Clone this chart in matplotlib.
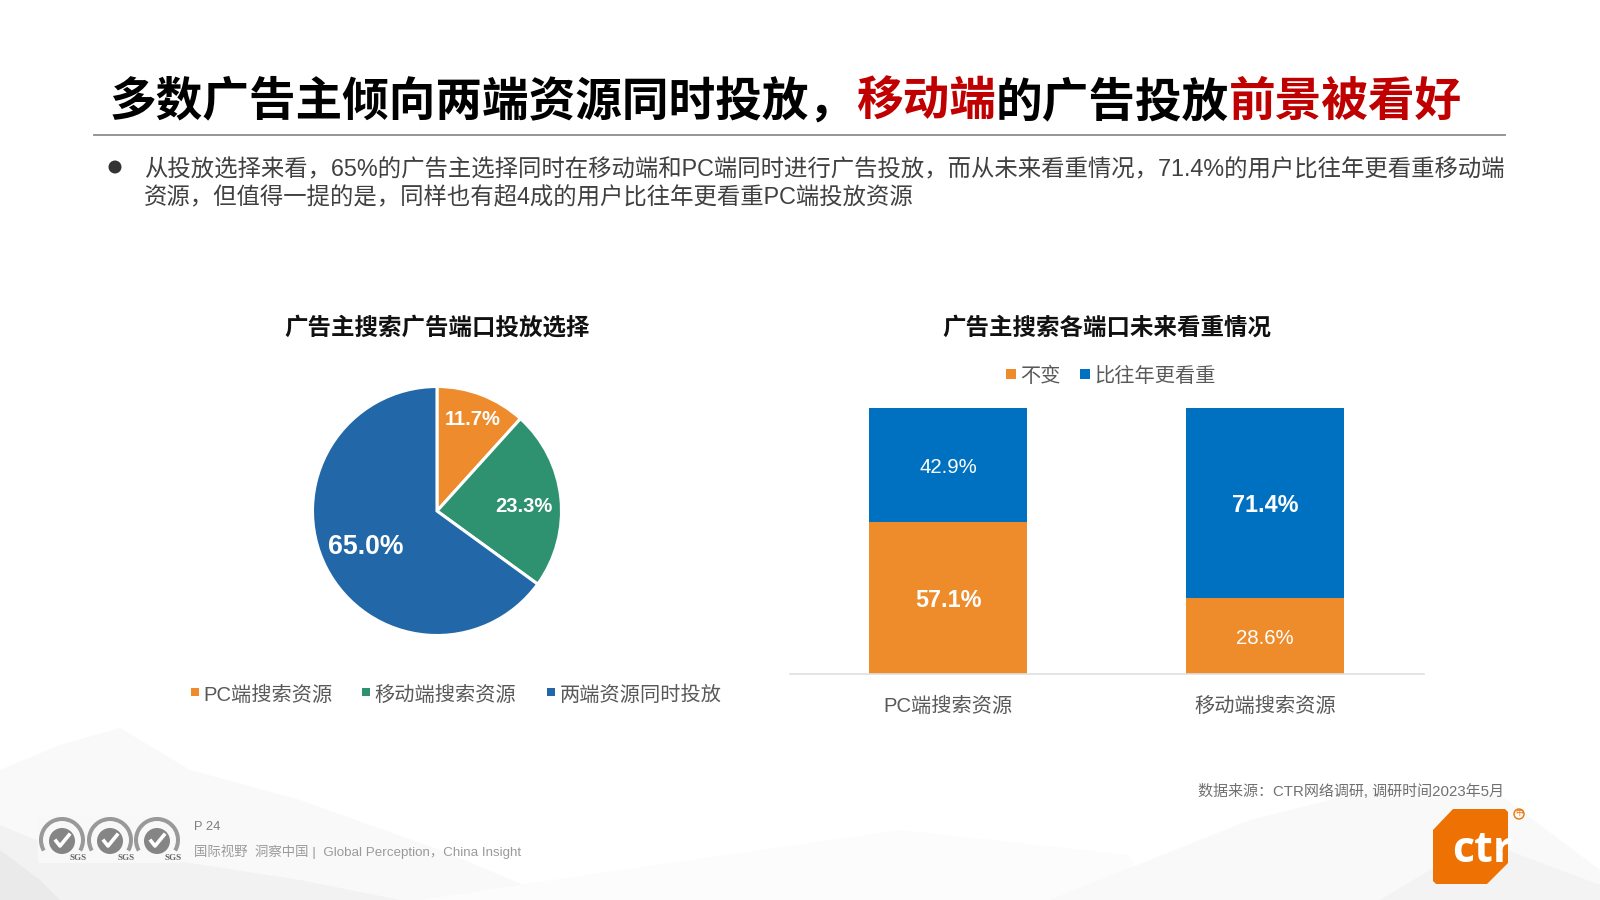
import matplotlib
matplotlib.use('Agg')
import numpy as np
import matplotlib.pyplot as plt
from matplotlib.patches import Polygon, Rectangle, Circle, Wedge

# latin glyphs from Liberation, the rest falls through to the CJK family
plt.rcParams['font.family'] = ['Liberation Sans', 'Noto Sans CJK SC', 'DejaVu Sans']

W, H = 1600, 900

# chart data
pie_labels = ['PC端搜索资源', '移动端搜索资源', '两端资源同时投放']
pie_values = [11.7, 23.3, 65.0]
pie_colors = ['#ED8B2D', '#2E9270', '#2267A8']
pie_label_r = [0.80, 0.70, 0.64]
pie_label_dy = [-1, -3, 0]
pie_label_size = [14.5, 14.5, 19.2]

bar_cats = ['PC端搜索资源', '移动端搜索资源']
bar_same = [57.1, 28.6]
bar_more = [42.9, 71.4]
bar_series = ['不变', '比往年更看重']
bar_orange = '#EE8C2C'
bar_blue = '#0070C0'

title_runs = [('多数广告主倾向两端资源同时投放，', 'black'), ('移动端', '#C00000'),
              ('的广告投放', 'black'), ('前景被看好', '#C00000')]
body_lines = ['从投放选择来看，65%的广告主选择同时在移动端和PC端同时进行广告投放，而从未来看重情况，71.4%的用户比往年更看重移动端',
              '资源，但值得一提的是，同样也有超4成的用户比往年更看重PC端投放资源']


def box(x0, y0, x1, y1):
    # pixel box to figure fractions
    return [x0 / W, 1 - y1 / H, (x1 - x0) / W, (y1 - y0) / H]


fig = plt.figure(figsize=(16, 9), dpi=100, facecolor='white')

# page layer in pixel coordinates
bg = fig.add_axes([0, 0, 1, 1], zorder=0)
bg.set_xlim(0, W)
bg.set_ylim(H, 0)
bg.axis('off')

# faint mountains behind the footer
shapes = [
    ([(0, 900), (0, 770), (60, 745), (120, 728), (190, 770), (300, 800), (440, 850), (560, 900)], '#F9F9F9'),
    ([(0, 900), (0, 825), (60, 850), (170, 860), (300, 880), (400, 900)], '#F2F2F2'),
    ([(0, 900), (0, 850), (40, 880), (60, 900)], '#EAEAEA'),
    ([(420, 900), (620, 870), (900, 830), (1130, 855), (1150, 900)], '#FCFCFC'),
    ([(1050, 900), (1250, 820), (1390, 785), (1500, 795), (1600, 870), (1600, 900)], '#F9F9F9'),
    ([(1380, 900), (1480, 840), (1600, 885), (1600, 900)], '#F3F3F3'),
]
for pts, col in shapes:
    bg.add_patch(Polygon(pts, closed=True, fc=col, ec='none'))

# title made of coloured runs, baseline aligned so the comma does not shift them
fig.canvas.draw()
rend = fig.canvas.get_renderer()
x = 110
for txt, col in title_runs:
    t = bg.text(x, 116, txt, color=col, fontsize=33.6, fontweight='bold', va='baseline', ha='left')
    x = t.get_window_extent(rend).x1

bg.plot([94, 1505], [134.5, 134.5], color='#8C8C8C', lw=1.3)
bg.add_patch(Circle((115, 167), 6.5, fc='#333333', ec='none'))
bg.text(144, 170, body_lines[0], fontsize=16.84, color='#404040', va='center')
bg.text(144, 198, body_lines[1], fontsize=16.84, color='#404040', va='center')

# pie chart
ax1 = fig.add_axes(box(437 - 124.5, 511 - 124.5, 437 + 124.5, 511 + 124.5), zorder=2)
wedges, _ = ax1.pie(pie_values, colors=pie_colors, startangle=90, counterclock=False, radius=1,
                    wedgeprops={'edgecolor': 'white', 'linewidth': 2.2})
ax1.set_xlim(-1, 1)
ax1.set_ylim(-1, 1)
for w, val, r, dy, size in zip(wedges, pie_values, pie_label_r, pie_label_dy, pie_label_size):
    a = np.deg2rad((w.theta1 + w.theta2) / 2)
    ax1.annotate('%.1f%%' % val, (r * np.cos(a), r * np.sin(a)), xytext=(0, dy), textcoords='offset points',
                 color='white', fontsize=size, fontweight='bold', ha='center', va='center')
bg.text(437, 328, '广告主搜索广告端口投放选择', fontsize=16.9, fontweight='bold', color='#111111',
        ha='center', va='center')

leg_x = [191, 362, 547]
for lx, name, col in zip(leg_x, pie_labels, pie_colors):
    bg.add_patch(Rectangle((lx, 688), 8, 8, fc=col, ec='none'))
    bg.text(lx + 12.5, 695, name, fontsize=14.55, color='#595959', va='center')

# stacked bars
ax2 = fig.add_axes(box(789.5, 408, 1423.5, 673.5), zorder=2)
pos = np.arange(len(bar_cats))
ax2.bar(pos, bar_same, width=0.5, color=bar_orange)
ax2.bar(pos, bar_more, width=0.5, bottom=bar_same, color=bar_blue)
ax2.set_xlim(-0.5, 1.5)
ax2.set_ylim(0, 100)
ax2.patch.set_alpha(0)
for s in ['top', 'left', 'right']:
    ax2.spines[s].set_visible(False)
ax2.spines['bottom'].set_color('#E0E0E0')
ax2.spines['bottom'].set_linewidth(1.2)
ax2.set_yticks([])
ax2.set_xticks(pos)
ax2.set_xticklabels(bar_cats, fontsize=14.55, color='#595959')
ax2.tick_params(axis='x', length=0, pad=16.5)
for i in pos:
    big_same = bar_same[i] > bar_more[i]
    ax2.annotate('%.1f%%' % bar_same[i], (i, bar_same[i] / 2), xytext=(0, -2), textcoords='offset points',
                 color='white', ha='center', va='center',
                 fontsize=16.8 if big_same else 14.7, fontweight='bold' if big_same else 'normal')
    ax2.annotate('%.1f%%' % bar_more[i], (i, bar_same[i] + bar_more[i] / 2), xytext=(0, -2), textcoords='offset points',
                 color='white', ha='center', va='center',
                 fontsize=14.7 if big_same else 16.8, fontweight='normal' if big_same else 'bold')
bg.text(1107, 328, '广告主搜索各端口未来看重情况', fontsize=16.9, fontweight='bold', color='#111111',
        ha='center', va='center')
for lx, name, col in zip([1006, 1080], bar_series, [bar_orange, bar_blue]):
    bg.add_patch(Rectangle((lx, 369), 10, 10, fc=col, ec='none'))
    bg.text(lx + 14, 376, name, fontsize=14.55, color='#595959', va='center')

# footer
bg.text(1504, 791, '数据来源：CTR网络调研, 调研时间2023年5月', fontsize=10.85, color='#707070', ha='right', va='center')
bg.text(194, 827, 'P 24', fontsize=9.3, color='#808080', va='center')
bg.text(194, 852, '国际视野  洞察中国 |  Global Perception，China Insight', fontsize=9.65, color='#9A9A9A', va='center')

# certification badges
bg.add_patch(Rectangle((38, 815), 143, 48, fc='#F8F8F8', ec='none'))
for cx in [62, 110, 157]:
    bg.add_patch(Wedge((cx, 840), 23, 150, 30, width=4, fc='#999999', ec='none'))
    bg.add_patch(Circle((cx, 841), 13, fc='#858585', ec='none'))
    bg.plot([cx - 6, cx - 2, cx + 7], [841, 846, 835], color='white', lw=2.6)
    bg.text(cx + 16, 858, 'SGS', fontsize=6.5, family='Liberation Serif', fontweight='bold',
            color='#666666', ha='center', va='center')

# ctr logo
logo = Polygon([(1453, 809), (1505, 809), (1508, 812), (1508, 863), (1487, 884), (1436, 884),
                (1433, 881), (1433, 830)], closed=True, fc='#EE7203', ec='none')
bg.add_patch(logo)
t = bg.text(1482, 851, 'ctr', fontsize=31, family='Open Sans', fontweight='bold', color='white',
            ha='center', va='center')
t.set_clip_path(logo)
bg.add_patch(Circle((1519, 814), 5, fc='none', ec='#EE7203', lw=1))
bg.text(1519, 814, '中', fontsize=5.5, color='#EE7203', ha='center', va='center')

fig.savefig('out.png', dpi=100)
